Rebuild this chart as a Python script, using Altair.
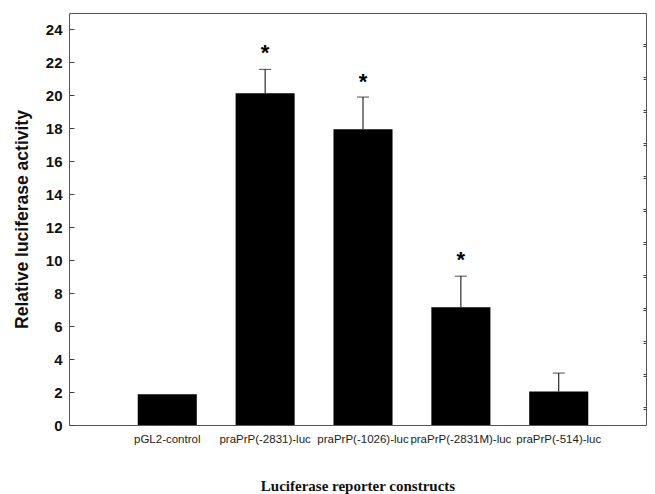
import altair as alt
import pandas as pd

constructs = ["pGL2-control", "praPrP(-2831)-luc", "praPrP(-1026)-luc",
              "praPrP(-2831M)-luc", "praPrP(-514)-luc"]
activity = [1.87, 20.13, 17.95, 7.15, 2.03]
error = [0.0, 1.45, 1.95, 1.88, 1.12]
star_label = ["", "*", "*", "*", ""]
star_pos = [0.0, 22.8, 21.05, 10.25, 0.0]

major_ticks = [0, 2, 4, 6, 8, 10, 12, 14, 16, 18, 20, 22, 24]
minor_ticks = [1, 3, 5, 7, 9, 11, 13, 15, 17, 19, 21, 23]
right_ticks = [1.1, 3.1, 5.1, 7.1, 9.1, 11.1, 13.1, 15.1, 17.1, 19.1, 21.1, 23.1]

df = pd.DataFrame({
    "construct": constructs,
    "activity": activity,
    "err": error,
    "hi": [a + e for a, e in zip(activity, error)],
    "star": star_label,
    "star_y": star_pos,
})

SANS = "Liberation Sans"
SERIF = "Liberation Serif"
DOM = [0, 25]

xenc = alt.X(
    "construct:N",
    sort=constructs,
    scale=alt.Scale(paddingInner=0.3967, paddingOuter=0.646, align=0.5435),
    axis=alt.Axis(
        title="Luciferase reporter constructs",
        titleFont=SERIF, titleFontSize=15, titleFontWeight="bold", titleColor="#111",
        titlePadding=34,
        labelFont=SANS, labelFontSize=11.5, labelColor="#222", labelAngle=0,
        labelPadding=8, ticks=False, domain=False, labelLimit=200,
    ),
)

def yscale():
    return alt.Scale(domain=DOM, nice=False, zero=True)

base = alt.Chart(df)

bars = base.mark_bar(color="black").encode(
    x=xenc,
    y=alt.Y(
        "activity:Q",
        scale=yscale(),
        axis=alt.Axis(
            values=major_ticks, offset=-5, tickSize=5, tickColor="#444",
            domain=False, grid=False,
            labelFont=SANS, labelFontSize=15, labelFontWeight="bold", labelColor="#111",
            labelPadding=7,
            title="Relative luciferase activity",
            titleFont=SANS, titleFontSize=17.5, titleFontWeight="bold", titleColor="#111",
            titlePadding=14,
        ),
    ),
)

errs = base.transform_filter("datum.err > 0")

stems = errs.mark_rule(color="black", strokeWidth=1).encode(
    x=alt.X("construct:N", sort=constructs),
    y=alt.Y("activity:Q", scale=yscale(), axis=None),
    y2="hi:Q",
)

caps = errs.mark_tick(color="black", thickness=1, size=12, orient="horizontal").encode(
    x=alt.X("construct:N", sort=constructs),
    y=alt.Y("hi:Q", scale=yscale(), axis=None),
)

stars = base.transform_filter("datum.star != ''").mark_text(
    font=SANS, fontSize=22, fontWeight="bold", color="black", baseline="middle", dy=4
).encode(
    x=alt.X("construct:N", sort=constructs),
    y=alt.Y("star_y:Q", scale=yscale(), axis=None),
    text="star:N",
)

minor = base.mark_point(opacity=0).encode(
    x=alt.X("construct:N", sort=constructs),
    y=alt.Y(
        "activity:Q",
        scale=yscale(),
        axis=alt.Axis(values=minor_ticks, offset=-3, tickSize=3, tickColor="#444",
                      labels=False, domain=False, grid=False, title=None),
    ),
)

right = base.mark_point(opacity=0).encode(
    x=alt.X("construct:N", sort=constructs),
    y=alt.Y(
        "activity:Q",
        scale=yscale(),
        axis=alt.Axis(values=right_ticks, orient="right", offset=-3, tickSize=3,
                      tickColor="#444", labels=False, domain=False, grid=False, title=None),
    ),
)

chart = (
    alt.layer(bars, stems, caps, stars, minor, right)
    .resolve_scale(y="independent")
    .properties(
        width=577, height=412,
        autosize=alt.AutoSizeParams(type="none"),
        padding={"left": 61, "top": 5, "right": 1, "bottom": 71},
        background="white",
    )
    .configure_view(stroke="#555", strokeWidth=1)
)

chart.save("out.html", embed_options={"renderer": "svg", "actions": False})
